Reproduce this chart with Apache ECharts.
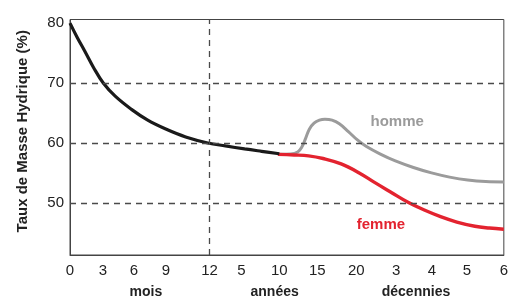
<!DOCTYPE html>
<html>
<head>
<meta charset="utf-8">
<script src="https://cdn.jsdelivr.net/npm/echarts@6/dist/echarts.min.js"></script>
<style>
  html, body { margin: 0; padding: 0; background: #fff; }
  #chart { width: 511px; height: 299px; }
</style>
</head>
<body>
<div id="chart"></div>
<script>
// x positions are in "display units" (0..12) of the piecewise age scale
var tickPos = [0, 0.91, 1.77, 2.65, 3.86, 4.74, 5.79, 6.84, 7.92, 9.02, 10.01, 10.98, 12];
var tickLabels = ['0', '3', '6', '9', '12', '5', '10', '15', '20', '3', '4', '5', '6'];
var groupPos = [2.1, 5.66, 9.57];
var groupLabels = ['mois', 'années', 'décennies'];
var yLabels = [50, 60, 70, 80];
var gridLines = [50, 60, 70];
var yearOneMark = 3.86;

var baby = [[0, 80], [0.2, 77.6], [0.41, 75.3], [0.65, 72.6], [0.92, 70], [1.25, 67.8], [1.70, 65.6],
  [2.15, 63.8], [2.62, 62.4], [3.2, 61.0], [3.81, 60], [4.3, 59.5], [4.83, 59.0], [5.3, 58.6], [5.79, 58.2]];
var homme = [[5.75, 58.1], [6.1, 58.15], [6.3, 58.5], [6.42, 59.4], [6.52, 60.8], [6.62, 62.3], [6.75, 63.3],
  [6.9, 63.8], [7.05, 63.95], [7.25, 63.8], [7.45, 63.2], [7.7, 61.9], [7.95, 60.5], [8.2, 59.4], [8.6, 58.1],
  [9.0, 57.0], [9.5, 55.9], [10.0, 55.0], [10.5, 54.3], [11.0, 53.8], [11.5, 53.55], [12, 53.5]];
var femme = [[5.75, 58.1], [6.2, 58.0], [6.6, 57.85], [7.0, 57.4], [7.5, 56.5], [8.0, 55.0], [8.4, 53.5],
  [8.9, 51.7], [9.35, 50.1], [9.8, 48.8], [10.25, 47.7], [10.7, 46.8], [11.2, 46.1], [11.6, 45.8], [12, 45.6]];
var hommeLabelAt = [9.05, 63.6];
var femmeLabelAt = [8.6, 46.35];

var chartDom = document.getElementById('chart');
var myChart = echarts.init(chartDom);
var option;

var dashStyle = { type: [6, 5], color: '#4a4a4a', width: 1.3 };
var axisColor = '#444';
var font = 'Liberation Sans, Arial, sans-serif';

var markData = gridLines.map(function (v) { return { yAxis: v }; });
markData.push({ xAxis: yearOneMark });

option = {
  backgroundColor: '#fff',
  animation: false,
  grid: {
    left: 70,
    right: 6,
    top: 19.5,
    bottom: 42.3,
    show: true,
    borderColor: axisColor,
    borderWidth: 1
  },
  xAxis: [
    {
      type: 'value',
      min: 0,
      max: 12,
      axisLine: { show: true, lineStyle: { color: axisColor, width: 1 } },
      axisTick: { show: false },
      splitLine: { show: false },
      axisLabel: {
        customValues: tickPos,
        margin: 8,
        color: '#222',
        fontSize: 15,
        fontFamily: font,
        formatter: function (val) {
          var i = tickPos.indexOf(val);
          return i >= 0 ? tickLabels[i] : '';
        }
      }
    },
    {
      type: 'value',
      min: 0,
      max: 12,
      position: 'bottom',
      offset: 22,
      axisLine: { show: false },
      axisTick: { show: false },
      splitLine: { show: false },
      axisLabel: {
        customValues: groupPos,
        margin: 8,
        color: '#222',
        fontSize: 14,
        fontWeight: 'bold',
        fontFamily: font,
        formatter: function (val) {
          var i = groupPos.indexOf(val);
          return i >= 0 ? groupLabels[i] : '';
        }
      }
    }
  ],
  yAxis: {
    type: 'value',
    min: 41.3,
    max: 80.6,
    name: 'Taux de Masse Hydrique (%)',
    nameLocation: 'middle',
    nameRotate: 90,
    nameGap: 40,
    nameTextStyle: { color: '#222', fontSize: 15, fontWeight: 'bold', fontFamily: font, padding: [0, 0, 0, 12] },
    axisLine: { show: true, lineStyle: { color: axisColor, width: 1 } },
    axisTick: { show: false },
    splitLine: { show: false },
    axisLabel: {
      customValues: yLabels,
      margin: 6,
      color: '#222',
      fontSize: 15,
      fontFamily: font
    }
  },
  series: [
    {
      name: 'bebe',
      type: 'line',
      smooth: 0.4,
      symbol: 'none',
      data: baby,
      lineStyle: { color: '#1a1a1a', width: 3.2 },
      z: 4,
      markLine: {
        silent: true,
        symbol: 'none',
        label: { show: false },
        lineStyle: dashStyle,
        data: markData
      }
    },
    {
      name: 'homme',
      type: 'line',
      smooth: 0.4,
      symbol: 'none',
      data: homme,
      lineStyle: { color: '#9b9b9b', width: 3 },
      z: 3,
      markPoint: {
        silent: true,
        symbol: 'circle',
        symbolSize: 0,
        label: { show: true, formatter: 'homme', color: '#9b9b9b', fontSize: 15, fontWeight: 'bold', fontFamily: font },
        data: [{ coord: hommeLabelAt }]
      }
    },
    {
      name: 'femme',
      type: 'line',
      smooth: 0.4,
      symbol: 'none',
      data: femme,
      lineStyle: { color: '#e3232f', width: 3.4 },
      z: 3,
      markPoint: {
        silent: true,
        symbol: 'circle',
        symbolSize: 0,
        label: { show: true, formatter: 'femme', color: '#e3232f', fontSize: 15, fontWeight: 'bold', fontFamily: font },
        data: [{ coord: femmeLabelAt }]
      }
    }
  ]
};

option && myChart.setOption(option);
</script>
</body>
</html>
